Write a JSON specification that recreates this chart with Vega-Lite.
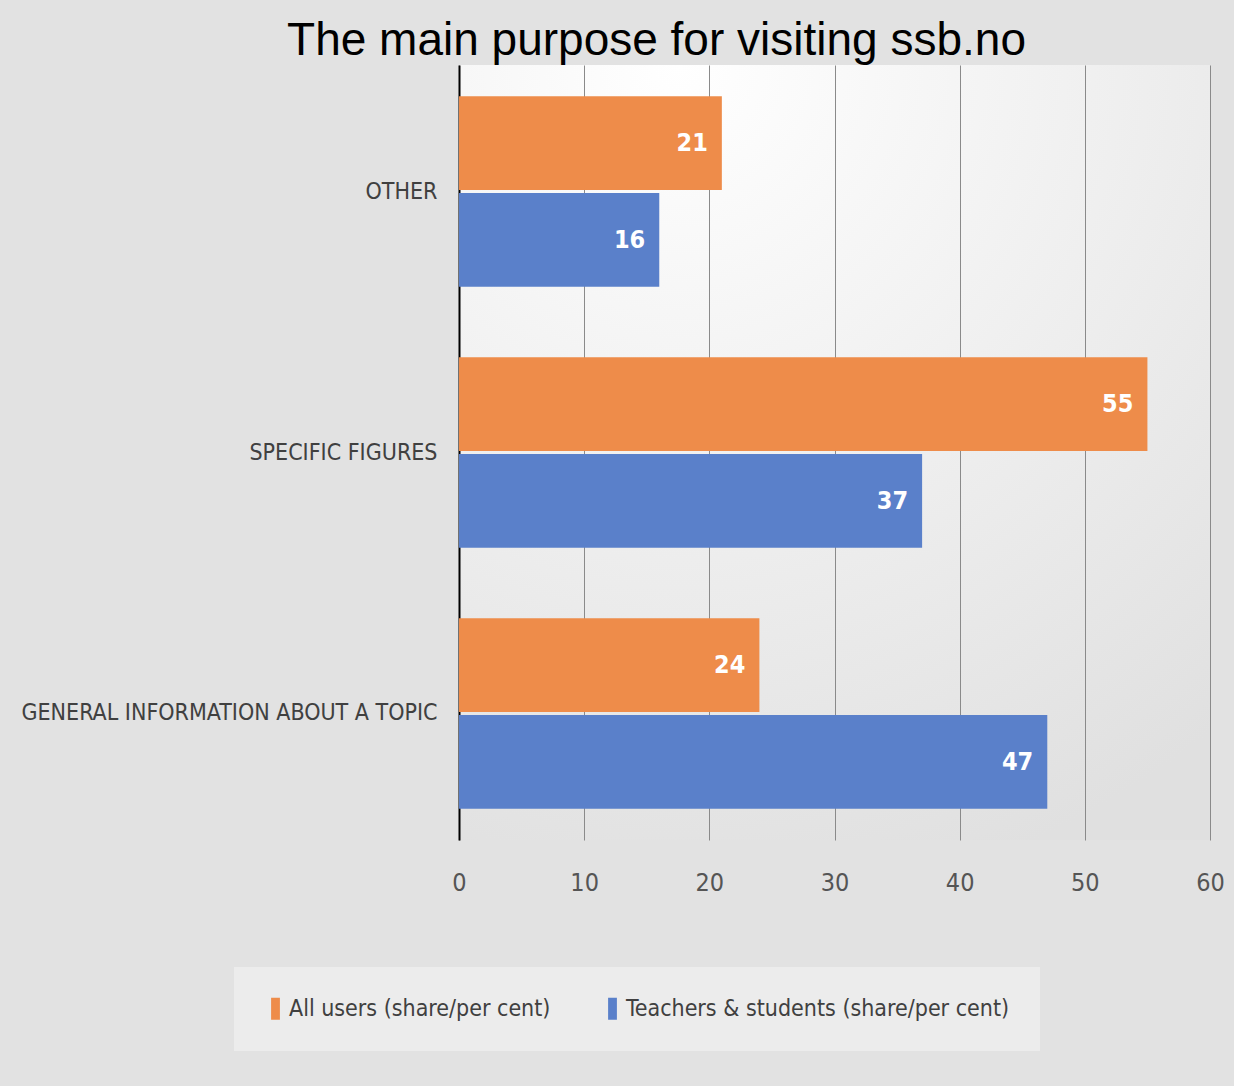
{
  "$schema": "https://vega.github.io/schema/vega-lite/v6.json",
  "width": 751,
  "height": 775,
  "autosize": {"type": "none"},
  "padding": {"left": 459, "top": 65, "right": 24, "bottom": 246},
  "background": "#e2e2e2",
  "title": {
    "text": "The main purpose for visiting ssb.no",
    "font": "Liberation Sans",
    "fontSize": 46,
    "fontWeight": "normal",
    "color": "#000000",
    "anchor": "middle",
    "frame": "group",
    "dx": -178,
    "dy": 40,
    "offset": 4,
    "baseline": "alphabetic"
  },
  "config": {
    "view": {
      "stroke": null,
      "fill": {
        "gradient": "radial",
        "x1": 0.3, "y1": 0.0, "x2": 0.3, "y2": 0.0, "r1": 0, "r2": 1.1,
        "stops": [
          {"offset": 0, "color": "#ffffff"},
          {"offset": 1, "color": "#e0e0e0"}
        ]
      }
    },
    "font": "DejaVu Sans Condensed"
  },
  "data": {
    "values": [
      {"category": "OTHER", "series": "All users (share/per cent)", "value": 21},
      {"category": "OTHER", "series": "Teachers & students (share/per cent)", "value": 16},
      {"category": "SPECIFIC FIGURES", "series": "All users (share/per cent)", "value": 55},
      {"category": "SPECIFIC FIGURES", "series": "Teachers & students (share/per cent)", "value": 37},
      {"category": "GENERAL INFORMATION ABOUT A TOPIC", "series": "All users (share/per cent)", "value": 24},
      {"category": "GENERAL INFORMATION ABOUT A TOPIC", "series": "Teachers & students (share/per cent)", "value": 47}
    ]
  },
  "encoding": {
    "y": {
      "field": "category",
      "type": "nominal",
      "sort": ["OTHER", "SPECIFIC FIGURES", "GENERAL INFORMATION ABOUT A TOPIC"],
      "scale": {"paddingInner": 0.27, "paddingOuter": 0.12},
      "axis": {
        "title": null,
        "ticks": false,
        "domainColor": "#000000",
        "domainWidth": 2,
        "labelFont": "DejaVu Sans Condensed",
        "labelFontSize": 23,
        "labelColor": "#404040",
        "labelPadding": 22,
        "labelLimit": 0
      }
    },
    "yOffset": {
      "field": "series",
      "type": "nominal",
      "scale": {"paddingInner": 0.03}
    },
    "x": {
      "field": "value",
      "type": "quantitative",
      "scale": {"domain": [0, 60], "nice": false},
      "axis": {
        "title": null,
        "values": [0, 10, 20, 30, 40, 50, 60],
        "domain": false,
        "ticks": false,
        "grid": true,
        "gridColor": "#8a8a8a",
        "gridWidth": 1,
        "labelFlush": false,
        "labelFont": "DejaVu Sans Condensed",
        "labelFontSize": 25,
        "labelColor": "#555555",
        "labelPadding": 30
      }
    }
  },
  "layer": [
    {
      "mark": {"type": "bar"},
      "encoding": {
        "color": {
          "field": "series",
          "type": "nominal",
          "scale": {
            "domain": ["All users (share/per cent)", "Teachers & students (share/per cent)"],
            "range": ["#ee8c4a", "#5a80ca"]
          },
          "legend": {
            "title": null,
            "orient": "none",
            "direction": "horizontal",
            "legendX": -225,
            "legendY": 902,
            "fillColor": "#ececec",
            "padding": 30,
            "symbolType": "M-0.4,-1H0.4V1H-0.4Z",
            "symbolSize": 484,
            "symbolStrokeWidth": 0,
            "labelFont": "DejaVu Sans Condensed",
            "labelFontSize": 23,
            "labelColor": "#404040",
            "labelLimit": 0,
            "labelOffset": 2,
            "columnPadding": 50
          }
        }
      }
    },
    {
      "mark": {
        "type": "text",
        "align": "right",
        "baseline": "middle",
        "dx": -14,
        "color": "#ffffff",
        "font": "DejaVu Sans Condensed",
        "fontSize": 25,
        "fontWeight": "bold"
      },
      "encoding": {
        "text": {"field": "value", "type": "quantitative"}
      }
    }
  ]
}
